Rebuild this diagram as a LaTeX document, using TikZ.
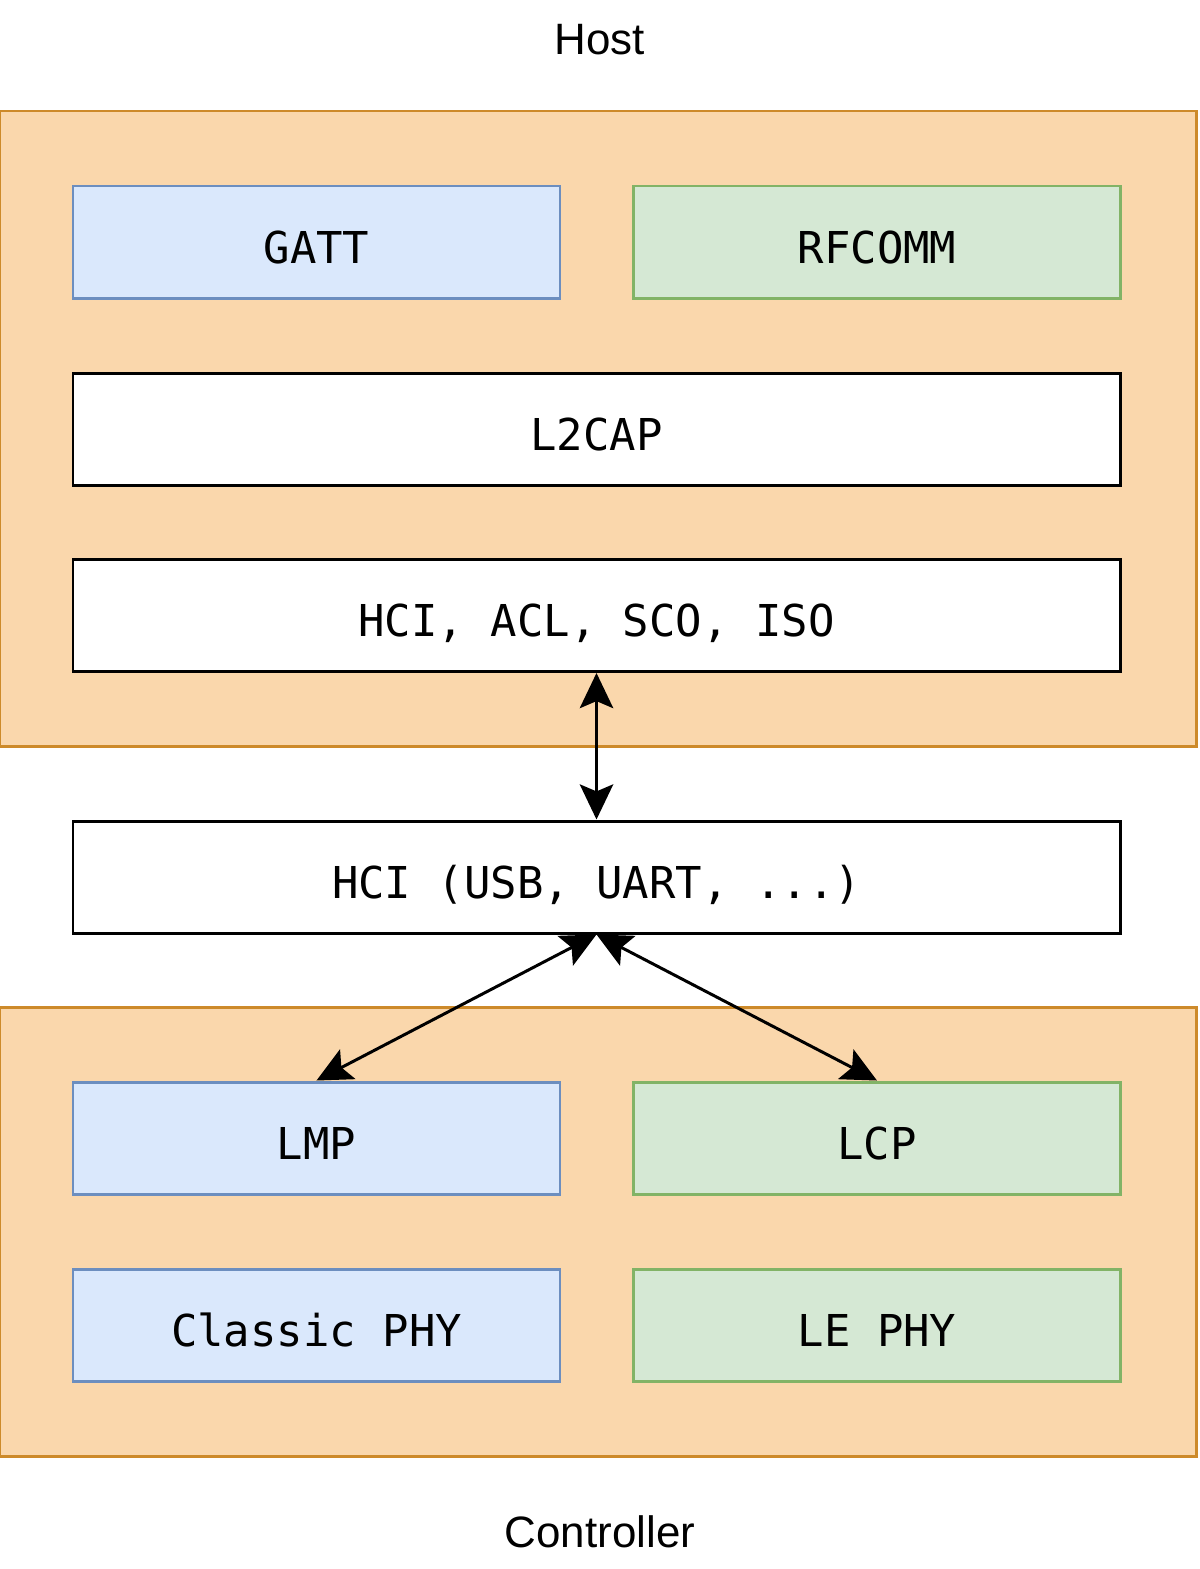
\documentclass[tikz,border=0pt]{standalone}
\usepackage{fontspec}
\setmainfont{Liberation Sans}
\setmonofont{DejaVu Sans Mono}
\usetikzlibrary{arrows.meta}
\definecolor{orfill}{HTML}{FAD7AC}
\definecolor{ordraw}{HTML}{CD8A2A}
\definecolor{blfill}{HTML}{DAE8FC}
\definecolor{bldraw}{HTML}{6C8EBF}
\definecolor{grfill}{HTML}{D5E8D4}
\definecolor{grdraw}{HTML}{82B366}
\begin{document}
\begin{tikzpicture}[x=0.02cm,y=-0.02cm,
  group/.style={draw=ordraw,fill=orfill,line width=1.7pt,inner sep=0pt},
  layer/.style={draw,line width=1.7pt,inner sep=0pt,minimum height={112*0.02cm},
    text height=24pt,text depth=0pt,
    font=\ttfamily\fontsize{25}{30}\selectfont},
  half/.style={layer,minimum width={487*0.02cm}},
  full/.style={layer,minimum width={1047*0.02cm},fill=white,draw=black},
  blue/.style={half,fill=blfill,draw=bldraw},
  green/.style={half,fill=grfill,draw=grdraw},
  title/.style={font=\fontsize{25}{30}\selectfont},
  link/.style={line width=1.7pt,{Stealth[length=20pt,width=19pt,inset=4pt]}-{Stealth[length=20pt,width=19pt,inset=4pt]}}
]
\useasboundingbox (0,0) rectangle (1200,1569);
\node[group,minimum width={1196*0.02cm},minimum height={635*0.02cm}] (host) at (598,428.5) {};
\node[group,minimum width={1196*0.02cm},minimum height={449*0.02cm}] (ctrl) at (598,1231.5) {};
\node[title] (hostlbl) at (600,40) {Host};
\node[title] (ctrllbl) at (600,1532) {Controller};
\node[blue] (gatt) at (316.5,242) {GATT};
\node[green] (rfcomm) at (877,242) {RFCOMM};
\node[full] (l2cap) at (596.5,429) {L2CAP};
\node[full] (hcihost) at (596.5,615.5) {HCI, ACL, SCO, ISO};
\node[full] (hcitr) at (596.5,877) {HCI (USB, UART, ...)};
\node[blue] (lmp) at (316.5,1138) {LMP};
\node[green] (lcp) at (877,1138) {LCP};
\node[blue] (cphy) at (316.5,1325) {Classic PHY};
\node[green] (lephy) at (877,1325) {LE PHY};
\coordinate (tc) at (hcitr.south);
\draw[link] (hcihost.south) -- (hcitr.north);
\draw[link] (tc) -- (lmp.north);
\draw[link] (tc) -- (lcp.north);
\end{tikzpicture}
\end{document}
